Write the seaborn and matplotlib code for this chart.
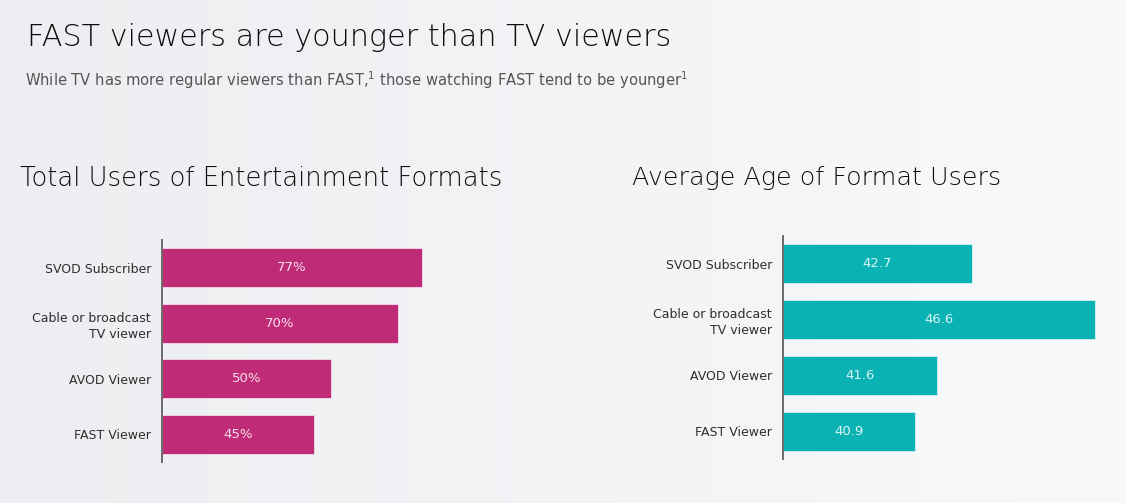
import numpy as np
import pandas as pd
import seaborn as sns
from matplotlib import pyplot as plt

# datos
formatos = ['SVOD Subscriber', 'Cable or broadcast\nTV viewer', 'AVOD Viewer', 'FAST Viewer']
usuarios_pct = [77, 70, 50, 45]
edad_media = [42.7, 46.6, 41.6, 40.9]

titulo = 'FAST viewers are younger than TV viewers'
subtitulo = ('While TV has more regular viewers than FAST,$^{1}$ '
             'those watching FAST tend to be younger$^{1}$')
titulo_izq = 'Total Users of Entertainment Formats'
titulo_der = 'Average Age of Format Users'

col_magenta = '#C02B77'
col_teal = '#0AB2B4'

sns.set_theme(style='white')
plt.rcParams['font.family'] = ['DejaVu Sans']

df_users = pd.DataFrame({'formato': formatos, 'valor': usuarios_pct})
df_edad = pd.DataFrame({'formato': formatos, 'valor': edad_media})

fig = plt.figure(figsize=(11.26, 5.03), dpi=100)

# fondo con degradado suave
bg = fig.add_axes([0, 0, 1, 1], zorder=-10)
grad = np.linspace(0, 1, 256)[None, :]
bg.imshow(grad, aspect='auto', cmap=sns.blend_palette(['#eceef1', '#f8f9fa'], as_cmap=True),
          extent=[0, 1, 0, 1])
bg.axis('off')

ax1 = fig.add_axes([0.1439, 0.0815, 0.2469, 0.4414])
ax2 = fig.add_axes([0.6954, 0.0875, 0.2904, 0.4433])


def barras(ax, df, color, xmin, xmax, fmt):
    sns.barplot(data=df, x='valor', y='formato', orient='h', color=color,
                width=0.7, saturation=1, edgecolor='#f3dce8' if color == col_magenta else '#d6f1f1',
                linewidth=0.6, ax=ax)
    ax.set_xlim(xmin, xmax)
    ax.set_ylim(3.5, -0.5)
    ax.set_facecolor('none')
    ax.set_xlabel('')
    ax.set_ylabel('')
    ax.set_xticks([])
    sns.despine(ax=ax, top=True, right=True, bottom=True)
    ax.spines['left'].set_color('#6b6b6b')
    ax.spines['left'].set_linewidth(1.4)
    ax.tick_params(axis='y', length=0, pad=8, labelsize=9, labelcolor='#2e2e2e')
    for lbl in ax.get_yticklabels():
        lbl.set_horizontalalignment('right')
        lbl.set_linespacing(1.3)
    for i, v in enumerate(df['valor']):
        ax.text((xmin + v) / 2, i, fmt.format(v), ha='center', va='center',
                color='white', alpha=0.85, fontsize=9.5)


barras(ax1, df_users, col_magenta, 0, 82.4, '{:.0f}%')
barras(ax2, df_edad, col_teal, 36.72, 47.07, '{:.1f}')

fig.text(0.024, 0.9245, titulo, fontsize=21.8, fontweight='light', color='#0d0d0d',
         va='center', ha='left')
fig.text(0.022, 0.841, subtitulo, fontsize=10.6, color='#555555', va='center', ha='left')
fig.text(0.0178, 0.646, titulo_izq, fontsize=18.6, fontweight='light', color='#0d0d0d',
         va='center', ha='left')
fig.text(0.5613, 0.646, titulo_der, fontsize=18.3, fontweight='light', color='#0d0d0d',
         va='center', ha='left')

fig.savefig('out.png', dpi=100)
